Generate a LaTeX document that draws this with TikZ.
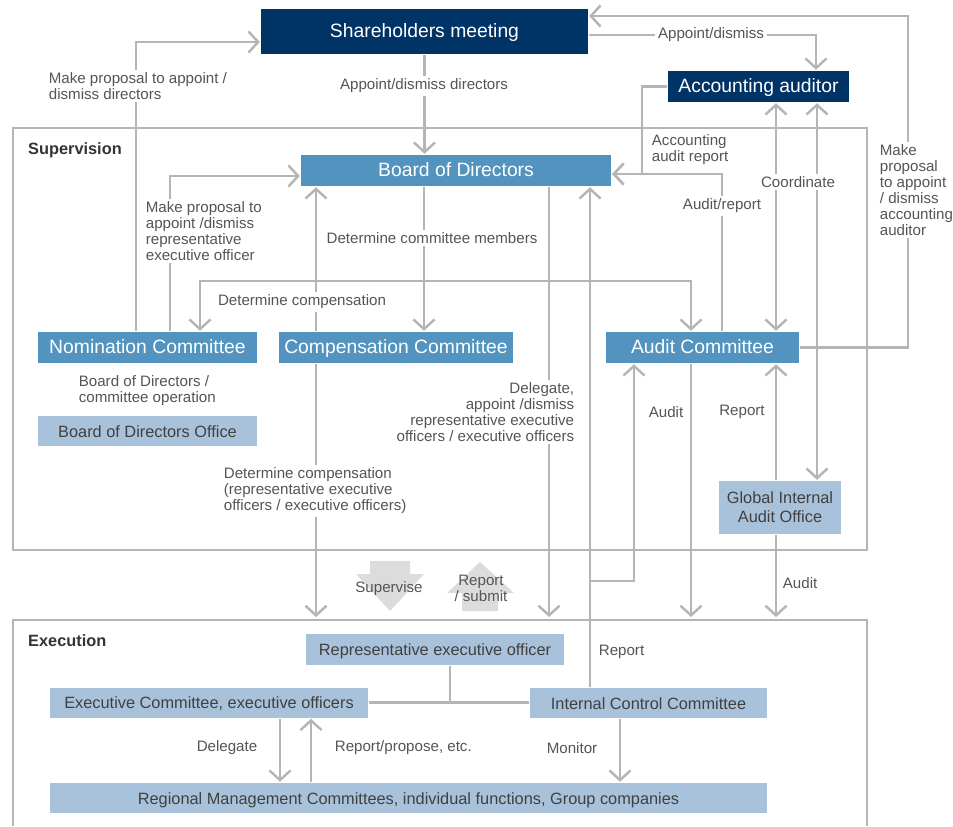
\documentclass[tikz,border=0pt]{standalone}
\usepackage{fontspec}
\setmainfont{Liberation Sans}
\usetikzlibrary{arrows.meta}

\definecolor{navy}{HTML}{003366}
\definecolor{midblue}{HTML}{5294BF}
\definecolor{lightblue}{HTML}{A9C2DB}
\definecolor{linegray}{HTML}{B5B5B5}
\definecolor{txtgray}{HTML}{555555}
\definecolor{blockgray}{HTML}{DCDCDC}

\tikzset{
  dark/.style={inner sep=0pt, fill=navy, text=white, text height=1.38ex, text depth=0pt, font=\fontsize{11}{13}\selectfont},
  mid/.style={inner sep=0pt, fill=midblue, text=white, text height=1.38ex, text depth=0pt, font=\fontsize{11}{13}\selectfont},
  light/.style={inner sep=0pt, fill=lightblue, text=black!75, align=center, font=\fontsize{9.3}{10.8}\selectfont},
  lightline/.style={light, text height=1.38ex, text depth=0pt},
  lbl/.style={fill=white, inner sep=1.5pt, text=txtgray, font=\fontsize{8.6}{9.1}\selectfont},
  sect/.style={inner sep=0pt, text=black!80, font=\fontsize{9.3}{11}\selectfont\bfseries},
  frame/.style={draw=linegray, line width=1.4pt},
  arr/.style={-{Straight Barb[length=5.5pt,width=12pt]}},
  both/.style={{Straight Barb[length=5.5pt,width=12pt]}-{Straight Barb[length=5.5pt,width=12pt]}},
}

\begin{document}
\begin{tikzpicture}[x=0.02cm, y=-0.02cm, line width=1.4pt, draw=linegray]
\useasboundingbox (0,0) rectangle (953,826);

% frames
\draw[frame] (13,128) rectangle (867,550);
\draw[frame] (13,826) |- (867,620) -- (867,826);
\coordinate (exectop) at (0,617);

% big arrows between the two frames
\fill[blockgray] (370,561) -- (410,561) -- (410,574) -- (424,574) -- (390,611)
  -- (356,574) -- (370,574) -- cycle;
\fill[blockgray] (480,562) -- (514,593) -- (498,593) -- (498,611) -- (462,611)
  -- (462,593) -- (447,593) -- cycle;

\node[dark, minimum width=6.54cm, minimum height=0.9cm] (share) at (424.5,31.5) {Shareholders meeting};
\node[dark, minimum width=3.62cm, minimum height=0.62cm] (acct) at (758.5,86.5) {Accounting auditor};
\node[mid, minimum width=6.2cm, minimum height=0.62cm] (board) at (456,170.5) {Board of Directors};
\node[mid, minimum width=4.38cm, minimum height=0.62cm] (nomi) at (147.5,347.5) {Nomination Committee};
\node[mid, minimum width=4.68cm, minimum height=0.62cm] (comp) at (396,347.5) {Compensation Committee};
\node[mid, minimum width=3.86cm, minimum height=0.62cm] (audit) at (702.5,347.5) {Audit Committee};
\node[lightline, minimum width=4.38cm, minimum height=0.6cm] (bdoffice) at (147.5,431) {Board of Directors Office};
\node[light, minimum width=2.44cm, minimum height=1.06cm] (giao) at (780,507.5) {Global Internal\\Audit Office};
\node[lightline, minimum width=5.16cm, minimum height=0.62cm] (rep) at (435,649.5) {Representative executive officer};
\node[lightline, minimum width=6.36cm, minimum height=0.6cm] (exec) at (209,702.5) {Executive Committee, executive officers};
\node[lightline, minimum width=4.74cm, minimum height=0.6cm] (icc) at (648.5,703) {Internal Control Committee};
\node[lightline, minimum width=14.34cm, minimum height=0.6cm] (region) at (408.5,798) {Regional Management Committees, individual functions, Group companies};

% supervision side
\draw (136,0 |- nomi.north) |- (share.west |- 0,42) [arr];
\draw (share.south) to (share.south |- board.north) [arr];
\draw (share.east |- 0,35) -| (acct.north -| 816,0) [arr];
\draw (audit.east) -| (908,16) to (share.east |- 0,16) [arr];
\draw (acct.west) -| (642,174) to (board.east |- 0,174) [arr];
\draw (722,0 |- audit.north) |- (board.east |- 0,174) [arr];
\draw (776,0 |- audit.north) to (776,0 |- acct.south) [both];
\draw (817,0 |- acct.south) to (817,0 |- giao.north) [both];
\draw (424,0 |- board.south) to (424,0 |- comp.north) [arr];
\draw (316,0 |- comp.north) to (316,0 |- board.south) [arr];
\draw (200,0 |- nomi.north) |- (691,281) to (691,0 |- audit.north) [both];
\draw (170,0 |- nomi.north) |- (board.west |- 0,176) [arr];

% down to execution and back
\draw (549,0 |- board.south) to (549,0 |- exectop) [arr];
\draw (590,0 |- icc.north) to (590,0 |- board.south) [arr];
\draw (590,581) -| (634,0 |- audit.south) [arr];
\draw (691,0 |- audit.south) to (691,0 |- exectop) [arr];
\draw (776,0 |- giao.north) to (776,0 |- audit.south) [arr];
\draw (776,0 |- giao.south) to (776,0 |- exectop) [arr];
\draw (316,0 |- comp.south) to (316,0 |- exectop) [arr];

% execution side
\draw (rep.south -| 450,0) to (450,0 |- exec.east);
\draw (exec.east) to (exec.east -| icc.west);
\draw (280,0 |- exec.south) to (280,0 |- region.north) [arr];
\draw (311,0 |- region.north) to (311,0 |- exec.south) [arr];
\draw (620,0 |- icc.south) to (620,0 |- region.north) [arr];

% labels
\node[sect, anchor=west] (lsup) at (27,150) {Supervision};
\node[sect, anchor=west] (lexe) at (27,641) {Execution};
\node[lbl, anchor=west, align=left] (lpropdir) at (45,86) {Make proposal to appoint /\\dismiss directors};
\node[lbl] (lappdir) at (424,86) {Appoint/dismiss directors};
\node[lbl] (lappacc) at (711,35) {Appoint/dismiss};
\node[lbl, anchor=west, align=left] (lacrep) at (648,150) {Accounting\\audit report};
\node[lbl] (lcoord) at (798,182) {Coordinate};
\node[lbl] (lauditrep) at (722,206) {Audit/report};
\node[lbl, anchor=west, align=left] (lpropacc) at (876,190) {Make\\proposal\\to appoint\\/ dismiss\\accounting\\auditor};
\node[lbl, anchor=west, align=left] (lproprep) at (142,231) {Make proposal to\\appoint /dismiss\\representative\\executive officer};
\node[lbl] (lmembers) at (432,238) {Determine committee members};
\node[lbl] (lcomp) at (302,302) {Determine compensation};
\node[lbl, anchor=west, align=left] (lops) at (75,391) {Board of Directors /\\committee operation};
\node[lbl, anchor=east, align=right] (ldeleg) at (578,412) {Delegate,\\appoint /dismiss\\representative executive\\officers / executive officers};
\node[lbl, anchor=west, align=left] (lcompexec) at (220,491) {Determine compensation\\(representative executive\\officers / executive officers)};
\node[lbl] (laudit) at (666,412) {Audit};
\node[lbl] (lreport) at (742,412) {Report};
\node[lbl, anchor=west] (lauditexe) at (779,583) {Audit};
\node[lbl, fill=none] (lsupervise) at (389,589) {Supervise};
\node[lbl, fill=none, align=center] (lsubmit) at (481,588) {Report\\/ submit};
\node[lbl, anchor=west] (lreportexe) at (595,652) {Report};
\node[lbl] (ldelegate) at (227,748) {Delegate};
\node[lbl, anchor=west] (lpropose) at (331,748) {Report/propose, etc.};
\node[lbl] (lmonitor) at (572,748) {Monitor};

\end{tikzpicture}
\end{document}
